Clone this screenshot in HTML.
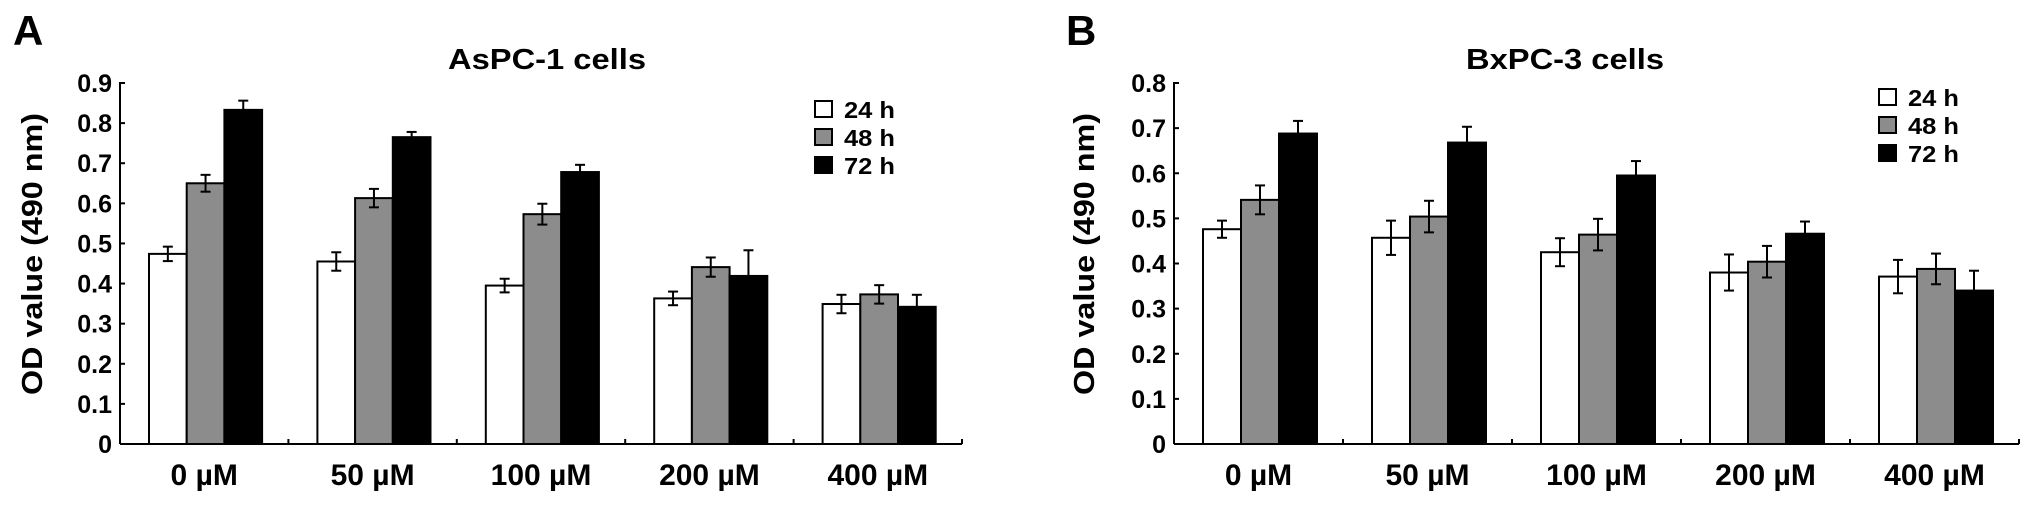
<!DOCTYPE html>
<html><head><meta charset="utf-8"><style>
html,body{margin:0;padding:0;background:#fff;}
svg{display:block;font-family:"Liberation Sans",Arial,sans-serif;font-weight:bold;}
</style></head><body>
<svg id="chart" width="2031" height="506" viewBox="0 0 2031 506" xmlns="http://www.w3.org/2000/svg"></svg>
<script>
const categories = ["0 µM","50 µM","100 µM","200 µM","400 µM"];
const seriesNames = ["24 h","48 h","72 h"];
const aspc24 = [0.474,0.455,0.395,0.363,0.349];
const aspc48 = [0.650,0.613,0.573,0.441,0.373];
const aspc72 = [0.833,0.765,0.678,0.419,0.342];
const aspcErr24 = [0.018,0.023,0.017,0.017,0.023];
const aspcErr48 = [0.021,0.023,0.026,0.024,0.023];
const aspcErr72 = [0.023,0.013,0.018,0.064,0.030];
const bxpc24 = [0.476,0.457,0.425,0.380,0.371];
const bxpc48 = [0.541,0.504,0.464,0.404,0.388];
const bxpc72 = [0.688,0.668,0.595,0.466,0.340];
const bxpcErr24 = [0.019,0.038,0.031,0.040,0.037];
const bxpcErr48 = [0.032,0.035,0.035,0.035,0.034];
const bxpcErr72 = [0.028,0.035,0.032,0.027,0.044];
const aspcTicks = ["0","0.1","0.2","0.3","0.4","0.5","0.6","0.7","0.8","0.9"];
const bxpcTicks = ["0","0.1","0.2","0.3","0.4","0.5","0.6","0.7","0.8"];

const NS="http://www.w3.org/2000/svg";
const svg=document.getElementById('chart');
function mk(tag,attrs,parent){const e=document.createElementNS(NS,tag);for(const k in attrs)e.setAttribute(k,attrs[k]);(parent||svg).appendChild(e);return e;}
const fills=["#ffffff","#8c8c8c","#000000"];

function panel(o){
  const g=mk('g',{});
  
  
  const yMax=o.ticks.length-1;
  const y=v=>o.y0-(v*10)/yMax*(o.y0-o.yTop);
  const catW=(o.xEnd-o.x0)/categories.length;
  const x=(ci,si)=>o.x0+ci*catW+o.off+si*o.bw;
  const L=mk('text',{x:o.letterX,y:45,'font-size':42},g);L.textContent=o.letter;
  
  
  const t=mk('text',{x:o.titleX,y:69,'font-size':29,'text-anchor':'middle',textLength:198,lengthAdjust:'spacingAndGlyphs'},g);t.textContent=o.title;
  
  
  const yl=mk('text',{x:0,y:0,'font-size':29,'text-anchor':'middle',textLength:282,lengthAdjust:'spacingAndGlyphs',transform:`translate(${o.ylabX},254) rotate(-90)`},g);yl.textContent="OD value (490 nm)";
  
  
  const series=[o.s24,o.s48,o.s72], errs=[o.e24,o.e48,o.e72];
  for(let si=0;si<3;si++){
    for(let ci=0;ci<categories.length;ci++){
      const v=series[si][ci], bx=x(ci,si), by=y(v);
      const r=mk('rect',{x:bx,y:by,width:o.bw,height:o.y0-by,fill:fills[si],stroke:'#000','stroke-width':2},g);
      
      
    }
  }
  for(let si=0;si<3;si++){
    for(let ci=0;ci<categories.length;ci++){
      const v=series[si][ci], e=errs[si][ci], cx=x(ci,si)+o.bw/2;
      const hi=y(v+e), lo=si===2?y(v):y(v-e);
      const eg=mk('g',{stroke:'#000','stroke-width':2},g);
      
      
      mk('line',{x1:cx,x2:cx,y1:hi,y2:lo},eg);
      mk('line',{x1:cx-5,x2:cx+5,y1:hi,y2:hi},eg);
      if(si!==2)mk('line',{x1:cx-5,x2:cx+5,y1:lo,y2:lo},eg);
    }
  }
  const ax=mk('g',{stroke:'#000','stroke-width':2},g);
  
  
  mk('line',{x1:o.x0,x2:o.x0,y1:o.yTop-1,y2:o.y0},ax);
  mk('line',{x1:o.x0,x2:o.xEnd,y1:o.y0,y2:o.y0},ax);
  o.ticks.forEach((lab,i)=>{
    const ty=y(i/10);
    mk('line',{x1:o.x0,x2:o.x0+5,y1:ty,y2:ty},ax);
    const tl=mk('text',{x:o.x0-8,y:ty+9,'font-size':25,'text-anchor':'end'},g);tl.textContent=lab;
    
    
  });
  for(let ci=1;ci<=categories.length;ci++){
    const tx=o.x0+ci*catW;
    mk('line',{x1:tx,x2:tx,y1:o.y0,y2:o.y0-5},ax);
  }
  categories.forEach((c,ci)=>{
    const xl=mk('text',{x:o.x0+(ci+0.5)*catW,y:485,'font-size':30,'text-anchor':'middle'},g);xl.textContent=c;
    
    
  });
  const lg=mk('g',{},g);
  
  
  seriesNames.forEach((n,si)=>{
    const ly=o.legY+si*28;
    const e=mk('g',{},lg);
    
    
    mk('rect',{x:o.legX,y:ly,width:17,height:16,fill:fills[si],stroke:'#000','stroke-width':2},e);
    const lt=mk('text',{x:o.legX+29,y:ly+17,'font-size':23,textLength:51,lengthAdjust:'spacingAndGlyphs'},e);lt.textContent=n;
  });
}
panel({id:'aspc',letter:'A',letterX:13,title:'AsPC-1 cells',titleX:547,ylabX:42,x0:120,xEnd:962,y0:444,yTop:83,off:29,bw:37.7,ticks:aspcTicks,s24:aspc24,s48:aspc48,s72:aspc72,e24:aspcErr24,e48:aspcErr48,e72:aspcErr72,legX:815,legY:101});
panel({id:'bxpc',letter:'B',letterX:1066,title:'BxPC-3 cells',titleX:1565,ylabX:1094,x0:1174,xEnd:2019,y0:444,yTop:83,off:29,bw:38,ticks:bxpcTicks,s24:bxpc24,s48:bxpc48,s72:bxpc72,e24:bxpcErr24,e48:bxpcErr48,e72:bxpcErr72,legX:1879,legY:89});
</script>
</body></html>
